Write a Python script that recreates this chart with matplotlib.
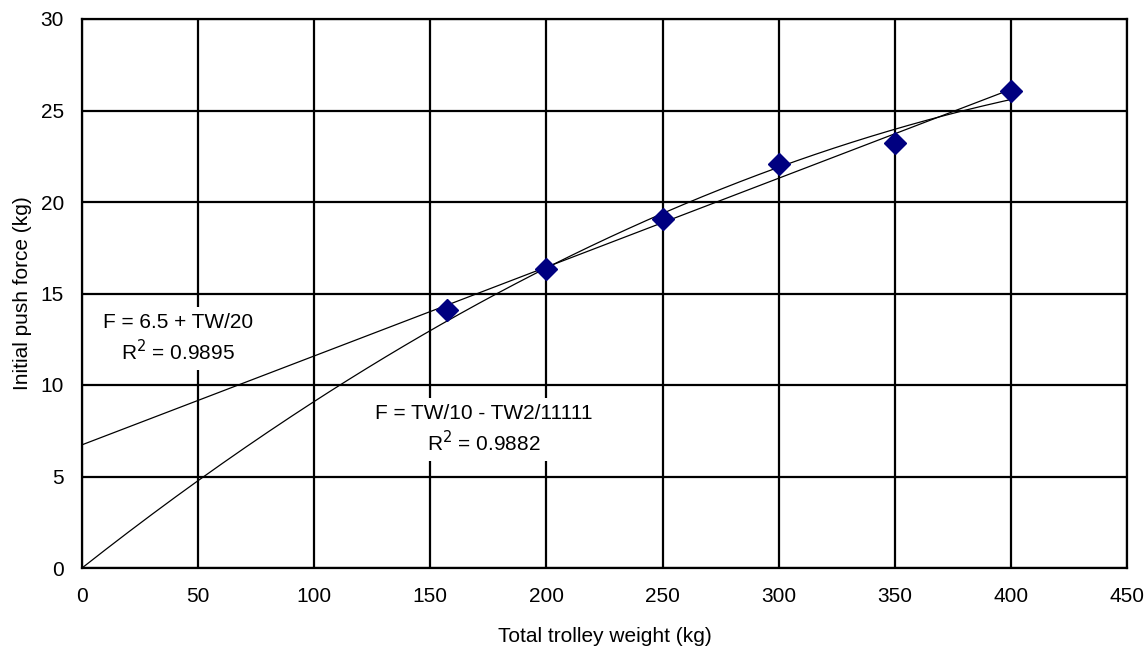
import numpy as np
import matplotlib
matplotlib.use("Agg")
import matplotlib.pyplot as plt

plt.rcParams['font.family'] = ['Liberation Sans', 'DejaVu Sans']

# Data
weight = [157, 200, 250, 300, 350, 400]
push_force = [14.1, 16.35, 19.05, 22.1, 23.2, 26.05]
# Polynomial trend F = a*TW + b*TW^2 (through origin), from the label
poly_a = 1 / 10
poly_b = -1 / 11111
x_ticks = [0, 50, 100, 150, 200, 250, 300, 350, 400, 450]
y_ticks = [0, 5, 10, 15, 20, 25, 30]
lin_label = "F = 6.5 + TW/20\nR$^2$ = 0.9895"
poly_label = "F = TW/10 - TW2/11111\nR$^2$ = 0.9882"

FS = 15

fig = plt.figure(figsize=(11.48, 6.48), dpi=100)
ax = fig.add_axes([82 / 1148, 1 - 568 / 648, (1127 - 82) / 1148, (568 - 19) / 648])

ax.set_xlim(0, 450)
ax.set_ylim(0, 30)
ax.set_xticks(x_ticks)
ax.set_yticks(y_ticks)
ax.grid(True, color='black', linewidth=1.6)
ax.set_axisbelow(True)
for s in ax.spines.values():
    s.set_linewidth(1.6)
    s.set_color('black')
ax.tick_params(length=0, labelsize=FS)
ax.tick_params(axis='x', pad=14)
ax.tick_params(axis='y', pad=13)

# Trend lines
xs = np.linspace(0, 400, 200)
slope, intercept = np.polyfit(weight, push_force, 1)
ax.plot(xs, intercept + slope * xs, color='black', linewidth=0.9, zorder=3)
ax.plot(xs, poly_a * xs + poly_b * xs ** 2, color='black', linewidth=0.9, zorder=3)

ax.plot(weight, push_force, linestyle='none', marker='D', markersize=11,
        color='#000080', markeredgecolor='#000080', zorder=4)

ax.text(41.4, 12.55, lin_label, ha='center', va='center', fontsize=FS,
        linespacing=1.35, zorder=5,
        bbox=dict(facecolor='white', edgecolor='none', pad=4))
ax.text(173.2, 7.55, poly_label, ha='center', va='center', fontsize=FS,
        linespacing=1.35, zorder=5,
        bbox=dict(facecolor='white', edgecolor='none', pad=4))

ax.set_xlabel("Total trolley weight (kg)", fontsize=FS, labelpad=15)
ax.set_ylabel("Initial push force (kg)", fontsize=FS, labelpad=6)

fig.savefig("out.png", dpi=100)
